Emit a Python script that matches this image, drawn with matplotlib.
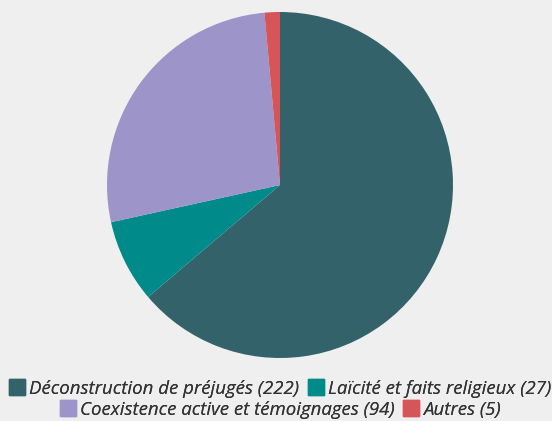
import matplotlib
matplotlib.use('Agg')
import matplotlib.pyplot as plt
from matplotlib.lines import Line2D

plt.rcParams['font.family'] = ['Open Sans', 'DejaVu Sans']

labels = ['Déconstruction de préjugés', 'Laïcité et faits religieux',
          'Coexistence active et témoignages', 'Autres']
values = [222, 27, 94, 5]
colors = ['#34626b', '#018a8a', '#9d94c9', '#d65559']

W, H = 552, 421
fig = plt.figure(figsize=(W / 100, H / 100), dpi=100)
fig.patch.set_facecolor('#efefef')

# pie centre ~ (280,185) px, radius ~173 px
cx, cy, r = 280, 185, 173
ax = fig.add_axes([(cx - r) / W, (H - cy - r) / H, 2 * r / W, 2 * r / H])
ax.set_facecolor('#efefef')
wedges, _ = ax.pie(values, colors=colors, startangle=90, counterclock=False,
                   radius=1.0, wedgeprops=dict(linewidth=0))
ax.set_xlim(-1, 1)
ax.set_ylim(-1, 1)
ax.set_aspect('equal')
ax.axis('off')

def handle(c):
    return Line2D([], [], marker='s', linestyle='none', markersize=11,
                  markerfacecolor=c, markeredgecolor=c)

rows = [[0, 1], [2, 3]]
ys = [389, 410]
for row, y in zip(rows, ys):
    leg = fig.legend([handle(colors[i]) for i in row],
                     [f'{labels[i]} ({values[i]})' for i in row],
                     loc='center', bbox_to_anchor=(281 / W, 1 - y / H),
                     ncol=2, frameon=False, handlelength=0.7,
                     handletextpad=0.3, columnspacing=0.55,
                     borderpad=0, borderaxespad=0,
                     prop=dict(size=13.4, style='italic'))
    for t in leg.get_texts():
        t.set_color('#333333')
    fig.add_artist(leg)

fig.savefig('out.png', dpi=100, facecolor=fig.get_facecolor())
